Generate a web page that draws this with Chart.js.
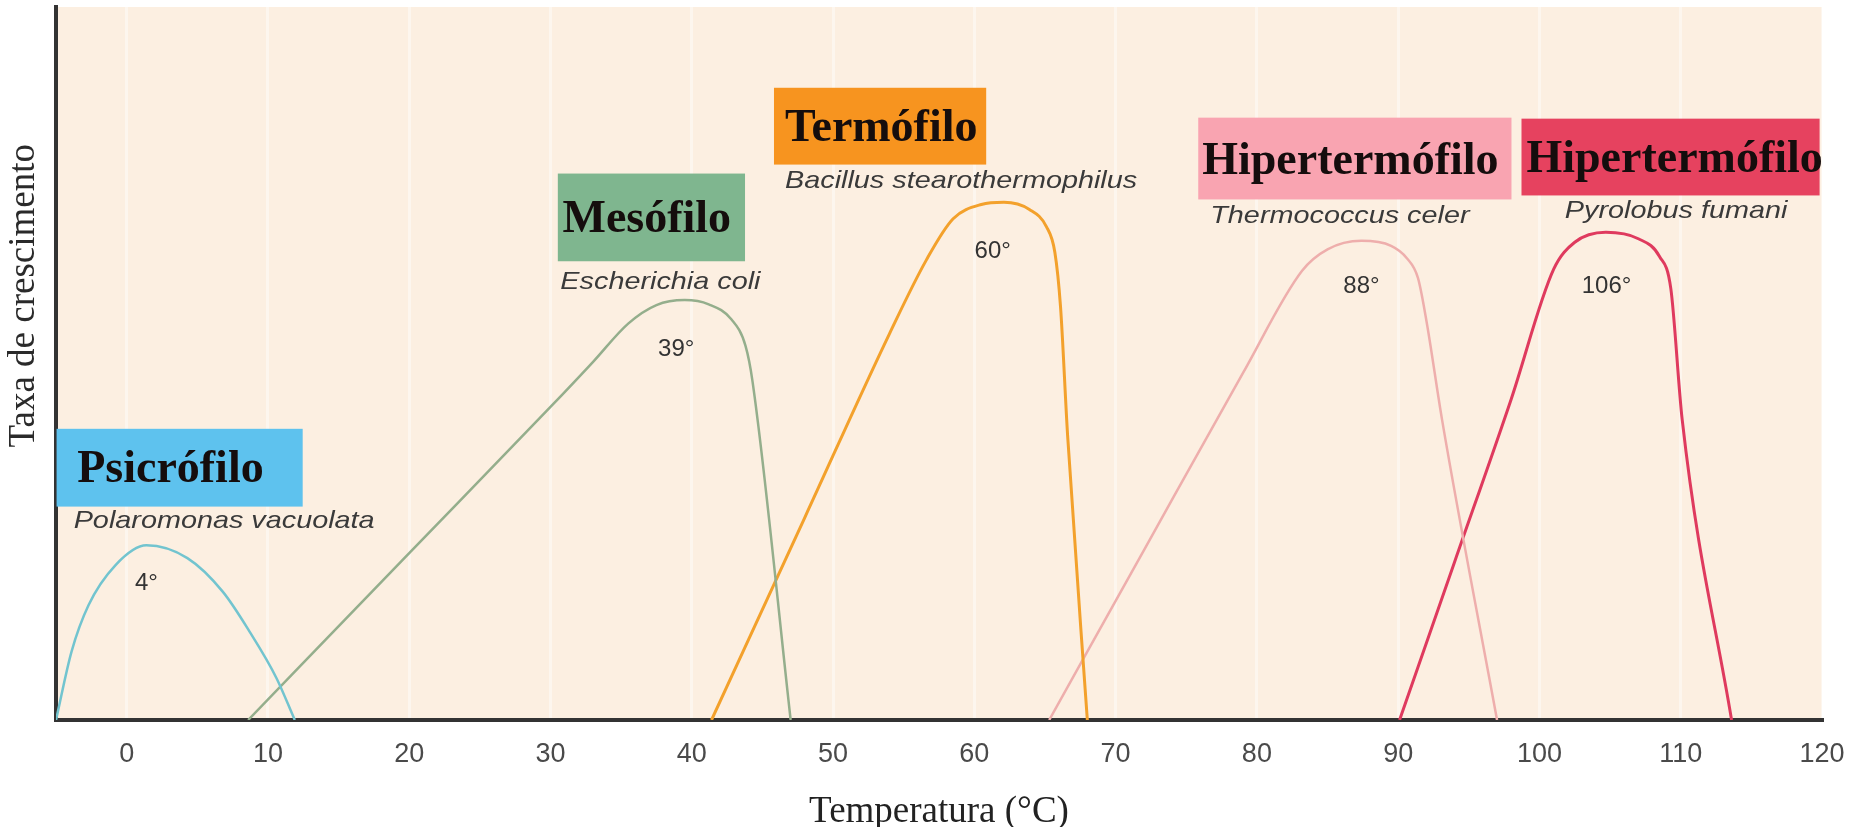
<!DOCTYPE html>
<html lang="pt">
<head>
<meta charset="utf-8">
<title>Taxa de crescimento x Temperatura</title>
<script src="https://cdn.jsdelivr.net/npm/chart.js@4.4.1/dist/chart.umd.min.js"></script>
<style>
  html, body { margin: 0; padding: 0; background: #fff; }
  #wrap { width: 1863px; height: 827px; position: relative; }
</style>
</head>
<body>
<div id="wrap"><canvas id="chart"></canvas></div>
<script>
// grupos, espécies e temperatura ótima
const groups = ["Psicrófilo", "Mesófilo", "Termófilo", "Hipertermófilo", "Hipertermófilo"];
const species = ["Polaromonas vacuolata", "Escherichia coli", "Bacillus stearothermophilus", "Thermococcus celer", "Pyrolobus fumani"];
const optimum = ["4°", "39°", "60°", "88°", "106°"];

// curvas: [temperatura °C, taxa relativa]
const psicrofilo = [[-5, 0], [-3.9, 9.6], [-2.7, 16.1], [-0.8, 21.7], [1.4, 24.5], [4.3, 22.7], [6.8, 18], [8.7, 12.4], [10.6, 5.9], [11.9, 0]];
const mesofilo = [[8.6, 0], [20, 23.4], [30, 43.9], [33, 50.2], [35.5, 55.6], [37.5, 58.2], [39.5, 58.9], [41.2, 58.3], [42.8, 56.2], [43.8, 52.5], [44.3, 47.5], [47, 0]];
const termofilo = [[41.4, 0], [48, 28.4], [54, 54.2], [56.6, 64.5], [58.5, 70.3], [60.5, 72.3], [62.1, 72.6], [63.9, 71.6], [65.1, 69.2], [65.7, 65.6], [66.1, 58], [66.6, 40], [68, 0]];
const hiper1 = [[65.3, 0], [72, 23.8], [79, 48.6], [83.2, 63], [85, 66], [87.4, 67.2], [89.5, 66.5], [90.6, 64.8], [91.4, 62], [92, 56], [93.1, 42.2], [97, 0]];
const hiper2 = [[90.1, 0], [94, 22.2], [98, 45], [101, 63.2], [102.5, 67], [104.7, 68.4], [107, 67.5], [108.5, 65], [109.3, 60.5], [110.1, 42.2], [113.6, 0]];

const xTicks = [0, 10, 20, 30, 40, 50, 60, 70, 80, 90, 100, 110, 120];

const lineColors = ["#72c4cf", "#94ae8c", "#f3a12c", "#eeaeac", "#df3a5e"];
const lineWidths = [2.5, 2.5, 3, 2.5, 3];
const boxColors = ["#5ec2ee", "#7fb68f", "#f7941f", "#f9a4b1", "#e6425f"];

// posição das etiquetas, em unidades dos eixos
const notes = [
  { box: [-4.96, 12.46, 40.84, 29.93], title: [-3.5, 33.4], sp: [-3.75, 27.8], peak: [1.4, 19.2] },
  { box: [30.52, 43.77, 76.64, 64.34], title: [30.85, 68.4], sp: [30.7, 61.4], peak: [38.9, 52.0] },
  { box: [45.82, 60.84, 88.67, 77.9], title: [46.6, 81.2], sp: [46.6, 75.5], peak: [61.3, 65.7] },
  { box: [75.85, 98.02, 84.48, 73.01], title: [76.13, 76.6], sp: [76.7, 70.6], peak: [87.4, 60.8] },
  { box: [98.73, 119.83, 84.34, 73.57], title: [99.08, 76.8], sp: [101.8, 71.3], peak: [104.75, 60.8] },
];
const yTitleAt = 59.5;

const toPts = (arr) => arr.map(([x, y]) => ({ x, y }));
const series = [psicrofilo, mesofilo, termofilo, hiper1, hiper2];

const paper = {
  id: "paper",
  beforeDraw(chart) {
    const { ctx, chartArea: a } = chart;
    ctx.save();
    ctx.fillStyle = "#fcefe1";
    ctx.fillRect(a.left, a.top, a.right - a.left, a.bottom - a.top);
    ctx.restore();
  },
  afterDatasetsDraw(chart) {
    const { ctx, scales: { x, y } } = chart;
    ctx.save();
    notes.forEach((n, i) => {
      const x0 = x.getPixelForValue(n.box[0]);
      const x1 = x.getPixelForValue(n.box[1]);
      const y0 = y.getPixelForValue(n.box[2]);
      const y1 = y.getPixelForValue(n.box[3]);
      ctx.fillStyle = boxColors[i];
      ctx.fillRect(x0, y0, x1 - x0, y1 - y0);

      ctx.fillStyle = "#150d0d";
      ctx.font = "bold 46px 'Liberation Serif', 'Times New Roman', serif";
      ctx.textAlign = "left";
      ctx.textBaseline = "alphabetic";
      ctx.fillText(groups[i], x.getPixelForValue(n.title[0]), y.getPixelForValue(n.title[1]));

      ctx.save();
      ctx.translate(x.getPixelForValue(n.sp[0]), y.getPixelForValue(n.sp[1]));
      ctx.scale(1.2, 1);
      ctx.font = "italic 24px 'Liberation Sans', Arial, sans-serif";
      ctx.textBaseline = "middle";
      ctx.fillStyle = "#3a3a3a";
      ctx.fillText(species[i], 0, 0);
      ctx.restore();

      ctx.font = "24px 'Liberation Sans', Arial, sans-serif";
      ctx.textAlign = "center";
      ctx.textBaseline = "middle";
      ctx.fillStyle = "#333";
      ctx.fillText(optimum[i], x.getPixelForValue(n.peak[0]), y.getPixelForValue(n.peak[1]));
    });
    ctx.restore();
  },
  afterDraw(chart) {
    const { ctx, chartArea: a, scales: { y } } = chart;
    ctx.save();
    ctx.translate(a.left - 32, y.getPixelForValue(yTitleAt));
    ctx.rotate(-Math.PI / 2);
    ctx.font = "37px 'Liberation Serif', 'Times New Roman', serif";
    ctx.fillStyle = "#2a2a2a";
    ctx.textAlign = "center";
    ctx.textBaseline = "middle";
    ctx.fillText("Taxa de crescimento", 0, 0);
    ctx.restore();
  },
};

new Chart(document.getElementById("chart"), {
  type: "line",
  data: {
    datasets: series.map((s, i) => ({
      label: groups[i],
      data: toPts(s),
      borderColor: lineColors[i],
      borderWidth: lineWidths[i],
      pointRadius: 0,
      fill: false,
      cubicInterpolationMode: "monotone",
    })),
  },
  options: {
    responsive: true,
    maintainAspectRatio: false,
    animation: false,
    layout: { padding: { top: 7, right: 41, bottom: 0, left: 56 } },
    plugins: { legend: { display: false }, tooltip: { enabled: false } },
    scales: {
      x: {
        type: "linear",
        min: -5,
        max: 120,
        afterBuildTicks: (s) => { s.ticks = xTicks.map((v) => ({ value: v })); },
        grid: { color: "rgba(255,255,255,0.45)", lineWidth: 3, drawTicks: false },
        border: { display: true, color: "#333", width: 4 },
        ticks: {
          padding: 18,
          color: "#4a4a4a",
          maxRotation: 0,
          font: { family: "'Liberation Sans', Arial, sans-serif", size: 27 },
        },
        title: {
          display: true,
          text: "Temperatura (°C)",
          color: "#222",
          padding: { top: 9, bottom: 0 },
          font: { family: "'Liberation Serif', 'Times New Roman', serif", size: 37, lineHeight: 0.8 },
        },
      },
      y: {
        min: 0,
        max: 100,
        ticks: { display: false },
        grid: { display: false, drawTicks: false },
        border: { display: true, color: "#333", width: 4 },
      },
    },
  },
  plugins: [paper],
});
</script>
</body>
</html>
